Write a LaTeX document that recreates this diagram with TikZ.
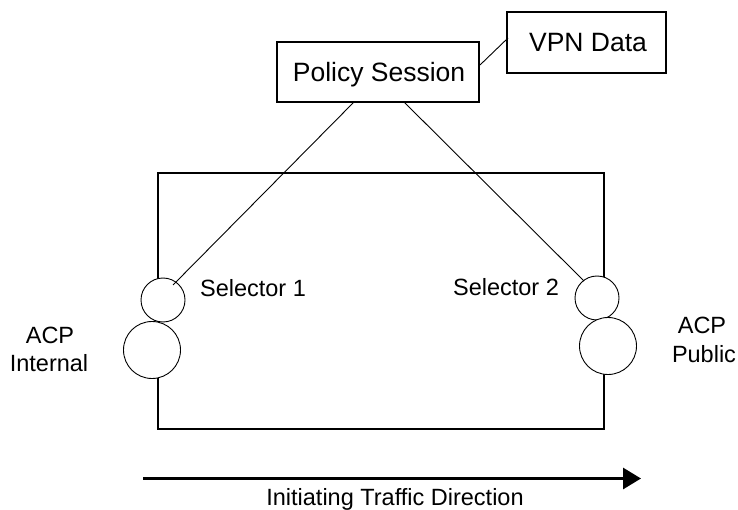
\documentclass[tikz,border=0pt]{standalone}
\usepackage{fontspec}
\setmainfont{Liberation Sans}
\usetikzlibrary{arrows.meta}
\begin{document}
\begin{tikzpicture}[x=1pt,y=-1pt,
  boxnode/.style={draw,line width=1.6pt,inner sep=0pt},
  bigtext/.style={font=\fontsize{26.5}{30}\selectfont},
  smalltext/.style={font=\fontsize{23.5}{27}\selectfont,anchor=base},
  port/.style={circle,draw,line width=0.9pt,fill=white,inner sep=0pt},
  link/.style={line width=0.9pt}]
\useasboundingbox (0,0) rectangle (738,510);
% main frame
\draw[line width=1.6pt] (158,173) rectangle (604,429);
% boxes
\node[boxnode,minimum width=202pt,minimum height=60pt] (ps) at (378,72) {};
\node[bigtext,anchor=base] (pst) at (379,82) {Policy Session};
\node[boxnode,minimum width=159pt,minimum height=61pt] (vpn) at (586.5,42.5) {};
\node[bigtext,anchor=base] (vpnt) at (588,52) {VPN Data};
% ports
\node[port,minimum size=44pt] (s1) at (163,300) {};
\node[port,minimum size=57pt] (acpi) at (152,350) {};
\node[port,minimum size=44pt] (s2) at (597,298) {};
\node[port,minimum size=57pt] (acpp) at (608,346) {};
% connector end points
\coordinate (psl) at (354,102);
\coordinate (psr) at (404,102);
\coordinate (s1e) at (173,285);
\coordinate (s2e) at (584,281);
\coordinate (psv) at (480,65);
\coordinate (vpnl) at (508,38);
\draw[link] (psl) -- (s1e);
\draw[link] (psr) -- (s2e);
\draw[link] (psv) -- (vpnl);
% labels
\node[smalltext] (l1) at (253,297) {Selector 1};
\node[smalltext] (l2) at (506,296) {Selector 2};
\node[smalltext] (ai1) at (50,343) {ACP};
\node[smalltext] (ai2) at (49,371) {Internal};
\node[smalltext] (ap1) at (702,333) {ACP};
\node[smalltext] (ap2) at (704,362) {Public};
% direction arrow
\coordinate (arS) at (143,478.5);
\coordinate (arE) at (641,478.5);
\draw[line width=3pt,-{Triangle[length=18pt,width=21pt]}] (arS) -- (arE);
\node[smalltext] (dir) at (395,505) {Initiating Traffic Direction};
\end{tikzpicture}
\end{document}
